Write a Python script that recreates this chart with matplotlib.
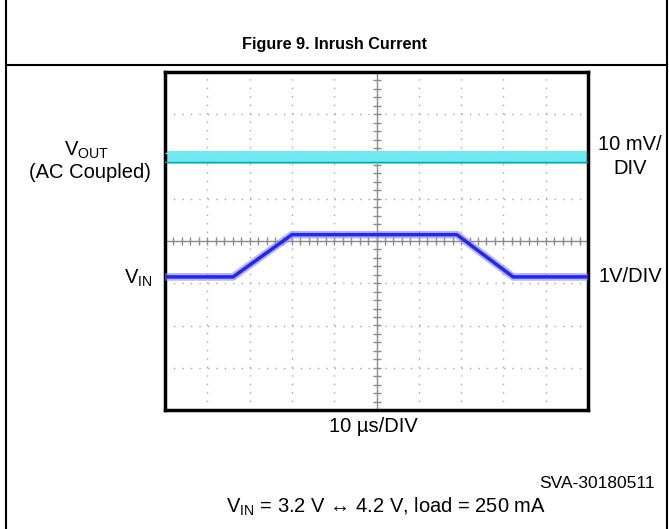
import numpy as np
import matplotlib.pyplot as plt
from matplotlib.lines import Line2D

plt.rcParams['font.family'] = 'Liberation Sans'
plt.rcParams['mathtext.fontset'] = 'custom'
plt.rcParams['mathtext.rm'] = 'Liberation Sans'
plt.rcParams['mathtext.it'] = 'Liberation Sans:italic'

# VIN step, time in us (10 us/div, 0 = screen centre), volts (1 V/div)
t_vin = [-50, -33.9, -20.0, 19.0, 32.3, 50]
v_vin = [3.2, 3.2, 4.2, 4.2, 3.2, 3.2]
vin_offset = 4.05  # volts at screen centre

# VOUT, AC coupled, mV (10 mV/div), stays flat
t_vout = [-50, 50]
v_vout = [0.0, 0.0]
vout_pos = 2.0  # divisions above centre

W, H = 669, 529
fig = plt.figure(figsize=(W / 100, H / 100), dpi=100)

def px(x, y):
    return x / W, 1 - y / H

# page frame
fig.add_artist(Line2D([6 / W, 6 / W], [0, 1], color='black', lw=1.5))
fig.add_artist(Line2D([667 / W, 667 / W], [0, 1], color='black', lw=1.5))
fig.add_artist(Line2D([6 / W, 667 / W], [1 - 65 / H, 1 - 65 / H], color='black', lw=1.5))

fig.text(*px(334, 44), 'Figure 9. Inrush Current', ha='center', va='center',
         fontsize=11.7, fontweight='bold')

ax = fig.add_axes([165 / W, 1 - 410 / H, 423 / W, 338 / H])
ax.set_xlim(-50, 50)
ax.set_ylim(-4, 4)
ax.set_xticks([])
ax.set_yticks([])
for s in ax.spines.values():
    s.set_linewidth(2.5)

# scope graticule
for gx in range(-40, 50, 10):
    if gx != 0:
        ax.axvline(gx, color='#a8a8a8', lw=1, dashes=(1, 5.09), zorder=1)
for gy in range(-3, 4):
    if gy != 0:
        ax.axhline(gy, color='#a8a8a8', lw=1, dashes=(1, 5.09), zorder=1)
ax.axhline(0, color='#8c8c8c', lw=1, zorder=1)
ax.axvline(0, color='#8c8c8c', lw=1, zorder=1)
mx = np.arange(-50, 50.1, 2)
my = np.arange(-4, 4.01, 0.2)
ax.plot(mx, np.zeros_like(mx), '|', ms=6, color='#8c8c8c', mew=1, zorder=1)
ax.plot(np.zeros_like(my), my, '_', ms=6, color='#8c8c8c', mew=1, zorder=1)

# VOUT trace
yo = vout_pos + np.array(v_vout) / 10
ax.plot(t_vout, yo, color='#6eeaf4', lw=9.5, solid_capstyle='butt', zorder=2)
ax.plot(t_vout, yo + 0.08, color='#9adfe6', lw=1, dashes=(3, 2), zorder=3)
ax.plot(t_vout, yo - 0.14, color='#1c9ca6', lw=1, zorder=3)

# VIN trace
yi = np.array(v_vin) - vin_offset
ax.plot(t_vin, yi, color='#8080ff', lw=5.5, alpha=0.6, zorder=4)
ax.plot(t_vin, yi, color='#2828dc', lw=2.5, zorder=5)

fs = 14.5
fig.text(*px(87, 150), r'V$_{\mathregular{OUT}}$', ha='center', va='center', fontsize=fs)
fig.text(*px(90, 172), '(AC Coupled)', ha='center', va='center', fontsize=fs)
fig.text(*px(153, 278), r'V$_{\mathregular{IN}}$', ha='right', va='center', fontsize=fs)
fig.text(*px(630, 145), '10 mV/', ha='center', va='center', fontsize=fs)
fig.text(*px(630, 169), 'DIV', ha='center', va='center', fontsize=fs)
fig.text(*px(630, 277), '1V/DIV', ha='center', va='center', fontsize=fs)
fig.text(*px(373, 426), '10 µs/DIV', ha='center', va='center', fontsize=fs)
fig.text(*px(655, 484), 'SVA-30180511', ha='right', va='center', fontsize=12.5)
fig.text(*px(386, 507), r'V$_{\mathregular{IN}}$ = 3.2 V ↔ 4.2 V, load = 250 mA',
         ha='center', va='center', fontsize=fs, family=['Liberation Sans', 'DejaVu Sans'])

fig.savefig('out.png', dpi=100)
